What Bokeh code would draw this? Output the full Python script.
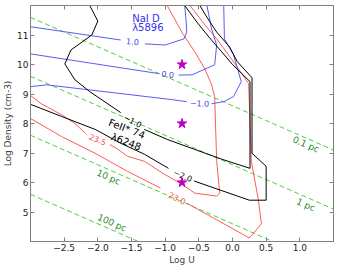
import numpy as np
from bokeh.plotting import figure
from bokeh.models import FixedTicker, LinearAxis, Range1d
from bokeh.embed import file_html
from bokeh.resources import INLINE
from bokeh.core.properties import value

nan = np.nan
FONT = "DejaVu Sans"

# ---------------- data ----------------
x_ticks = [-2.5, -2.0, -1.5, -1.0, -0.5, 0.0, 0.5, 1.0]
x_tick_labels = ["\u22122.5", "\u22122.0", "\u22121.5", "\u22121.0", "\u22120.5", "0.0", "0.5", "1.0"]
y_ticks = [5, 6, 7, 8, 9, 10, 11]
y_tick_labels = ["5", "6", "7", "8", "9", "10", "11"]

# constant-distance lines (log n vs log U), end points
dist_names = ["0.1 pc", "1 pc", "10 pc", "100 pc"]
dist_x0 = [-3.0, -3.0, -3.0, -3.0]
dist_y0 = [11.6, 9.6, 7.6, 5.6]
dist_x1 = [1.5, 1.5, 1.5, 1.5]
dist_y1 = [7.1, 5.1, 3.1, 1.1]
dist_label_x = [1.09, 1.09, -1.84, -1.79]
dist_label_y = [7.29, 5.24, 6.18, 4.63]

# FeII* contours (black)
fe_m1_x = [-2.12, -2.0, -2.09, -2.40, -2.49, -2.34, -2.12, -1.66, nan, -1.31, -0.97, -0.56, -0.16, 0.26, 0.26, 0.0, -0.16, -0.35, -0.53, -0.71]
fe_m1_y = [12.0, 11.47, 11.0, 10.49, 10.02, 9.48, 9.08, 8.37, nan, 7.80, 7.46, 7.12, 6.79, 6.48, 9.42, 10.0, 10.43, 10.93, 11.44, 12.0]
fe_m2_x = [-0.485, -0.38, -0.235, -0.045, 0.07, 0.29, 0.29, 0.5, 0.5, 0.25, -0.57, nan, -0.95, -1.31, -1.66, -2.04, -2.54, -3.0]
fe_m2_y = [12.0, 11.6, 11.1, 10.6, 10.1, 9.55, 6.99, 6.55, 5.40, 5.40, 6.05, nan, 6.48, 6.96, 7.33, 7.80, 8.24, 8.65]

# column density contours (red)
r235_x = [-0.97, -0.735, -0.56, -0.41, -0.31, -0.265, -0.235, -0.19, -0.235, -0.56, -0.78, -1.04, -1.31, -1.56, -1.66, -1.82, nan, -2.18, -2.34, -2.54, -2.84, -3.0]
r235_y = [12.0, 11.03, 10.43, 9.85, 9.31, 8.91, 6.72, 5.64, 5.54, 5.64, 5.98, 6.32, 6.72, 6.89, 7.06, 7.29, nan, 7.66, 8.0, 8.30, 8.67, 8.95]
r230_x = [-3.0, -2.54, -2.04, -1.56, -1.07, nan, -0.68, 0.25, 0.43, 0.38, 0.28, 0.24, 0.015, -0.235, -0.41, -0.63]
r230_y = [8.17, 7.56, 6.99, 6.38, 5.81, nan, 5.30, 4.12, 4.60, 5.47, 6.72, 9.35, 10.09, 10.87, 11.34, 12.0]

# NaI D contours (blue)
b10_x = [-3.0, -1.66, nan, -1.30, -1.0, -0.72, -0.68, -0.69, -0.71]
b10_y = [11.28, 10.83, nan, 10.70, 10.66, 10.87, 11.1, 11.5, 12.0]
b00_x = [-3.0, -1.09, nan, -0.80, -0.60, -0.265, -0.235, -0.31, -0.38]
b00_y = [10.36, 9.69, nan, 9.64, 9.65, 9.99, 10.66, 11.2, 12.0]
bm1_x = [-3.0, -2.76, -0.90, -0.68, nan, -0.31, -0.13, 0.015, 0.13, 0.015, -0.12, -0.13]
bm1_y = [9.25, 9.31, 8.81, 8.74, nan, 8.67, 8.74, 8.91, 9.42, 10.33, 10.87, 12.0]

# contour labels
clab_text = ["\u22121.0", "\u22122.0", "23.5", "23.0", "1.0", "0.0", "\u22121.0"]
clab_x = [-1.48, -0.735, -2.0, -0.82, -1.485, -0.96, -0.49]
clab_y = [8.10, 6.25, 7.47, 5.48, 10.79, 9.68, 8.70]
clab_angle = [-0.5, -0.4, -0.4, -0.45, -0.1, -0.15, -0.03]
clab_color = ["black", "black", "#ff4545", "#ff4545", "#4646f0", "#4646f0", "#4646f0"]

# observed points
star_x = [-0.75, -0.75, -0.75]
star_y = [10.0, 8.0, 6.0]

# ---------------- figure ----------------
p = figure(width=337, height=267, x_range=Range1d(-3.0, 1.5), y_range=Range1d(4.0, 12.0),
           output_backend="svg", toolbar_location=None,
           min_border_left=0, min_border_right=4, min_border_top=5, min_border_bottom=0)
p.xgrid.visible = False
p.ygrid.visible = False
p.outline_line_color = "#808080"
p.background_fill_color = "white"
p.border_fill_color = "white"

p.add_layout(LinearAxis(), "above")
p.add_layout(LinearAxis(), "right")

for ax in p.xaxis:
    ax.ticker = FixedTicker(ticks=x_ticks)
for ax in p.yaxis:
    ax.ticker = FixedTicker(ticks=y_ticks)
for ax in list(p.xaxis) + list(p.yaxis):
    ax.major_tick_in = 4
    ax.major_tick_out = 0
    ax.minor_tick_in = 0
    ax.minor_tick_out = 0
    ax.major_tick_line_color = "#808080"
    ax.axis_line_color = "#808080"
    ax.major_label_text_font = FONT
    ax.major_label_text_font_size = "9px"
    ax.major_label_text_color = "#222222"
    ax.major_label_standoff = 2
    ax.axis_label_text_font = FONT
    ax.axis_label_text_font_size = "9px"
    ax.axis_label_text_font_style = "normal"
    ax.axis_label_standoff = 1

p.below[0].major_label_overrides = {t: l for t, l in zip(x_ticks, x_tick_labels)}
p.left[0].major_label_overrides = {t: l for t, l in zip(y_ticks, y_tick_labels)}
p.above[0].major_label_overrides = {t: "" for t in x_ticks}
p.right[0].major_label_overrides = {t: "" for t in y_ticks}
p.above[0].major_label_standoff = 0
p.right[0].major_label_standoff = 0

p.below[0].axis_label = "Log U"
p.left[0].axis_label = "Log Density (cm-3)"

# distance lines
green_line = "#4ccf3c"
for x0, y0, x1, y1 in zip(dist_x0, dist_y0, dist_x1, dist_y1):
    p.line([x0, x1], [y0, y1], line_color=green_line, line_width=1, line_dash="5 3")
p.text(x=dist_label_x, y=dist_label_y, text=dist_names, angle=-0.41,
       text_font=value(FONT), text_font_size="9px", text_color="#1f8a1f",
       text_align="center", text_baseline="middle")

# contours
red = "#ff5a5a"
blue = "#5a5af5"
p.line(r235_x, r235_y, line_color=red, line_width=1)
p.line(r230_x, r230_y, line_color=red, line_width=1)
p.line(b10_x, b10_y, line_color=blue, line_width=1)
p.line(b00_x, b00_y, line_color=blue, line_width=1)
p.line(bm1_x, bm1_y, line_color=blue, line_width=1)
p.line(fe_m1_x, fe_m1_y, line_color="black", line_width=1)
p.line(fe_m2_x, fe_m2_y, line_color="black", line_width=1)

p.text(x=clab_x, y=clab_y, text=clab_text, angle=clab_angle, text_color=clab_color,
       text_font=value(FONT), text_font_size="8px",
       text_align="center", text_baseline="middle")

# annotations
p.text(x=[-1.49, -1.49], y=[11.57, 11.24], text=["NaI D", "\u03bb5896"],
       text_font=value(FONT), text_font_size="10px", text_color="#3333ee",
       text_align="left", text_baseline="middle")
p.text(x=[-1.57, -1.58], y=[7.82, 7.38], text=["FeII* 74", "\u03bb6248"], angle=-0.37,
       text_font=value(FONT), text_font_size="10px", text_color="black",
       text_align="center", text_baseline="middle")

p.scatter(star_x, star_y, marker="star", size=10, fill_color="#c000c0", line_color="#c000c0")

open("out.html", "w").write(file_html(p, INLINE))
